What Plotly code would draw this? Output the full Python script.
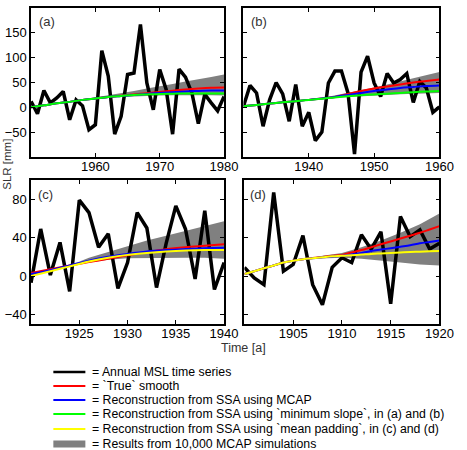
import plotly.graph_objects as go

W, H = 467, 450

# ---------------- data ----------------
# (a) 1950-1980
years_a = list(range(1950, 1981))
msl_a = [12, -13, 34, 9, 19, 32, -25, 15, 3, -45, -35, 114, 63, -54, -18, 66, 69, 167, 49, -5,
         76, 36, -54, 77, 61, 29, -33, 26, 9, -7, 22]
sm_yrs_a = [1950, 1952, 1954, 1956, 1958, 1960, 1962, 1964, 1966, 1968, 1970, 1972, 1974, 1976, 1978, 1980]
green_a = [0, 4, 8, 11, 15, 18, 21, 23, 25, 26, 27, 27.5, 28, 28, 28, 28]
red_a = [0, 4, 8, 11, 15, 18, 21, 23.5, 26, 28.5, 31, 33.5, 36, 38, 39.5, 40]
blue_a = [0, 4, 8, 11, 15, 18, 21, 23, 25, 27, 29, 30.5, 32, 33, 34, 34]
band_yrs_a = [1958, 1960, 1962, 1964, 1966, 1968, 1970, 1972, 1974, 1976, 1978, 1980]
band_hi_a = [16, 20, 24, 29, 33, 38, 42, 47, 52, 56, 61, 66]
band_lo_a = [14, 17, 19, 21, 22.5, 23.5, 24, 24.5, 25, 25, 24.5, 24]

# (b) 1930-1960
years_b = list(range(1930, 1961))
msl_b = [2, 44, 29, -38, 15, 50, 27, -28, 46, -38, -10, -67, -50, 49, 73, 73, 29, -94, 71, 103,
         49, 22, 68, 49, 56, 68, 10, 52, 39, -10, 1]
sm_yrs_b = [1930, 1932, 1934, 1936, 1938, 1940, 1942, 1944, 1946, 1948, 1950, 1952, 1954, 1956, 1958, 1960]
green_b = [2, 4.5, 7.5, 10, 12.5, 15, 17.5, 20, 22.5, 24.5, 26, 27.5, 29, 30.5, 32, 33]
red_b = [2, 4.5, 7.5, 10, 12.5, 15, 18, 21, 27, 33, 38, 42, 46, 50, 53, 56]
blue_b = [2, 4.5, 7.5, 10, 12.5, 15, 18, 21, 25, 29, 33, 36, 39, 41, 43, 44]
band_yrs_b = [1942, 1944, 1946, 1948, 1950, 1952, 1954, 1956, 1958, 1960]
band_hi_b = [19, 24, 30, 35, 40, 46, 52, 59, 65, 71]
band_lo_b = [17, 19, 21, 23, 24, 25, 26.5, 27.5, 28.5, 29]

# (c) 1920-1940
years_c = list(range(1920, 1941))
msl_c = [-7, 49, 1, 35, -16, 79, 66, 30, 44, -13, 14, 66, 50, -12, 34, 73, 49, -3, 68, -14, 14]
sm_yrs_c = [1920, 1922, 1924, 1926, 1928, 1930, 1932, 1934, 1936, 1938, 1940]
yellow_c = [0, 5, 10, 15, 19, 22, 24, 25.5, 26.5, 27, 27]
red_c = [3, 7, 11, 14.5, 18, 21.5, 25, 28, 30, 31.5, 33]
blue_c = [2, 6, 11, 16, 20, 23, 25.5, 27, 28, 29, 29.5]
band_yrs_c = [1924, 1926, 1928, 1930, 1932, 1934, 1936, 1938, 1940]
band_hi_c = [11, 19, 25, 31, 37, 42, 47, 52, 57]
band_lo_c = [10, 14, 17, 18.5, 19, 19, 19, 19, 18]

# (d) 1900-1920
years_d = list(range(1900, 1921))
msl_d = [9, -2, -9, 87, 5, 12, 42, -9, -30, 9, 19, 14, 43, 28, 46, -29, 62, 41, 48, 28, 34]
sm_yrs_d = [1900, 1901, 1902, 1903, 1904, 1905, 1906, 1907, 1908, 1909, 1910, 1911, 1912, 1913,
            1914, 1915, 1916, 1917, 1918, 1919, 1920]
yellow_d = [2, 5, 8, 11, 14, 16, 17.5, 18.5, 19.5, 20.5, 21, 21.7, 22.3, 23, 23.5, 24, 24.5, 25, 25.3, 25.7, 26]
red_d = [2, 5, 8, 11, 14, 16, 17.5, 18.7, 19.8, 21, 22, 24.5, 27, 30, 33, 36, 39, 42, 45, 48.5, 52]
blue_d = [2, 5, 8, 11, 14, 16, 17.5, 18.5, 19.5, 20.3, 21, 22.5, 24, 26, 27.5, 29, 30.5, 32, 34, 35.5, 37]
band_yrs_d = [1907, 1908, 1910, 1912, 1914, 1916, 1918, 1920]
band_hi_d = [19, 21, 24, 30, 37, 45, 54, 65]
band_lo_d = [18, 18.5, 19, 18, 16, 14, 12, 11]

legend_labels = [
    "= Annual MSL time series",
    "= `True` smooth",
    "= Reconstruction from SSA using MCAP",
    "= Reconstruction from SSA using `minimum slope`, in (a) and (b)",
    "= Reconstruction from SSA using `mean padding`, in (c) and (d)",
    "= Results from 10,000 MCAP simulations",
]

# ---------------- styles ----------------
GRAY = "rgb(128,128,128)"
RED = "rgb(255,0,0)"
BLUE = "rgb(0,0,255)"
GREEN = "rgb(0,255,0)"
YELLOW = "rgb(255,255,0)"
FONT = "Liberation Sans, Arial, sans-serif"

fig = go.Figure()

panels = [
    ("x", "y", years_a, msl_a, sm_yrs_a, red_a, blue_a, green_a, GREEN, band_yrs_a, band_hi_a, band_lo_a),
    ("x2", "y2", years_b, msl_b, sm_yrs_b, red_b, blue_b, green_b, GREEN, band_yrs_b, band_hi_b, band_lo_b),
    ("x3", "y3", years_c, msl_c, sm_yrs_c, red_c, blue_c, yellow_c, YELLOW, band_yrs_c, band_hi_c, band_lo_c),
    ("x4", "y4", years_d, msl_d, sm_yrs_d, red_d, blue_d, yellow_d, YELLOW, band_yrs_d, band_hi_d, band_lo_d),
]

for xa, ya, yrs, msl, syrs, red, blue, third, tcol, byrs, bhi, blo in panels:
    fig.add_trace(go.Scatter(x=byrs + byrs[::-1], y=bhi + blo[::-1], fill="toself",
                             fillcolor=GRAY, line=dict(width=0), mode="lines",
                             xaxis=xa, yaxis=ya, showlegend=False, hoverinfo="skip"))
    fig.add_trace(go.Scatter(x=yrs, y=msl, mode="lines", line=dict(color="black", width=3.5),
                             xaxis=xa, yaxis=ya, showlegend=False))
    fig.add_trace(go.Scatter(x=syrs, y=red, mode="lines", line=dict(color=RED, width=2, shape="spline"),
                             xaxis=xa, yaxis=ya, showlegend=False))
    fig.add_trace(go.Scatter(x=syrs, y=blue, mode="lines", line=dict(color=BLUE, width=2, shape="spline"),
                             xaxis=xa, yaxis=ya, showlegend=False))
    fig.add_trace(go.Scatter(x=syrs, y=third, mode="lines", line=dict(color=tcol, width=2, shape="spline"),
                             xaxis=xa, yaxis=ya, showlegend=False))


def px_x(a, b):
    return [a / W, b / W]


def px_y(top, bottom):
    return [1 - bottom / H, 1 - top / H]


axis_common = dict(showline=True, linecolor="black", linewidth=1.5, mirror="ticks",
                   ticks="inside", ticklen=4, tickcolor="black", tickwidth=1,
                   showgrid=False, zeroline=False,
                   tickfont=dict(family=FONT, size=13, color="black"))
xcommon = dict(axis_common, ticklabelstandoff=-3)

fig.update_layout(
    width=W, height=H, margin=dict(l=0, r=0, t=0, b=0),
    paper_bgcolor="white", plot_bgcolor="white", showlegend=False,
    xaxis=dict(domain=px_x(32, 231), range=[1950, 1980], anchor="y",
               tickvals=[1960, 1970, 1980], **xcommon),
    yaxis=dict(domain=px_y(8, 157), range=[-100, 200], anchor="x",
               tickvals=[-50, 0, 50, 100, 150], **axis_common),
    xaxis2=dict(domain=px_x(251, 453), range=[1930, 1960], anchor="y2",
                tickvals=[1940, 1950, 1960], **xcommon),
    yaxis2=dict(domain=px_y(8, 157), range=[-100, 200], anchor="x2",
                tickvals=[-50, 0, 50, 100, 150], showticklabels=False, **axis_common),
    xaxis3=dict(domain=px_x(32, 231), range=[1920, 1940], anchor="y3",
                tickvals=[1925, 1930, 1935, 1940], **xcommon),
    yaxis3=dict(domain=px_y(180, 324), range=[-50, 100], anchor="x3",
                tickvals=[-40, 0, 40, 80], **axis_common),
    xaxis4=dict(domain=px_x(252, 453), range=[1900, 1920], anchor="y4",
                tickvals=[1905, 1910, 1915, 1920], **xcommon),
    yaxis4=dict(domain=px_y(180, 324), range=[-50, 100], anchor="x4",
                tickvals=[-40, 0, 40, 80], showticklabels=False, **axis_common),
)

annotations = []
for lab, (cx, cy) in zip(["(a)", "(b)", "(c)", "(d)"], [(38, 22), (257, 22), (37, 194), (256, 194)]):
    annotations.append(dict(text=lab, x=cx / W, y=1 - cy / H, xref="paper", yref="paper",
                            xanchor="left", yanchor="middle", showarrow=False,
                            font=dict(family=FONT, size=13, color="#333333")))
annotations.append(dict(text="SLR [mm]", x=7 / W, y=1 - 164 / H, xref="paper", yref="paper",
                        textangle=-90, showarrow=False, xanchor="center", yanchor="middle",
                        font=dict(family=FONT, size=11.5, color="#333333")))
annotations.append(dict(text="Time [a]", x=251 / W, y=1 - 348 / H, xref="paper", yref="paper",
                        showarrow=False, xanchor="center", yanchor="middle",
                        font=dict(family=FONT, size=12.5, color="#333333")))

shapes = []
leg_rows = [372, 386, 400, 414, 429, 444]
leg_colors = ["black", RED, BLUE, GREEN, YELLOW, None]
for i, (lab, row, col) in enumerate(zip(legend_labels, leg_rows, leg_colors)):
    yy = 1 - row / H
    if col is None:
        shapes.append(dict(type="rect", xref="paper", yref="paper", x0=55 / W, x1=88 / W,
                           y0=1 - (row + 3.5) / H, y1=1 - (row - 3.5) / H,
                           fillcolor=GRAY, line=dict(width=0)))
    else:
        shapes.append(dict(type="line", xref="paper", yref="paper", x0=55 / W, x1=88 / W,
                           y0=yy, y1=yy, line=dict(color=col, width=2.5 if i == 0 else 2)))
    annotations.append(dict(text=lab, x=93 / W, y=yy, xref="paper", yref="paper",
                            xanchor="left", yanchor="middle", showarrow=False,
                            font=dict(family=FONT, size=12.3, color="black")))

fig.update_layout(annotations=annotations, shapes=shapes)
fig.write_html("out.html")
